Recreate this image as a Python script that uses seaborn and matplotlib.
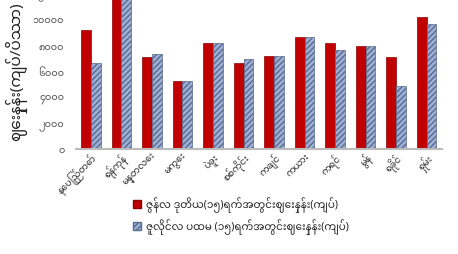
import matplotlib
matplotlib.use("Agg")
import matplotlib.pyplot as plt
from matplotlib import font_manager
import seaborn as sns
import pandas as pd

regions = ["နေပြည်တော်", "ရန်ကုန်", "မန္တလေး", "မကွေး", "ပဲခူး", "စစ်ကိုင်း",
           "ကချင်", "ကယား", "ကရင်", "မွန်", "ရခိုင်", "ရှမ်း"]
june_2nd = [9200, 13000, 7100, 5300, 8200, 6700, 7200, 8700, 8200, 8000, 7100, 10200]
july_1st = [6700, 12500, 7400, 5300, 8200, 7000, 7200, 8700, 7700, 8000, 4900, 9700]
series_names = ["ဇွန်လ ဒုတိယ(၁၅)ရက်အတွင်းဈေးနှုန်း(ကျပ်)",
                "ဇူလိုင်လ ပထမ (၁၅)ရက်အတွင်းဈေးနှုန်း(ကျပ်)"]
y_ticks = [0, 2000, 4000, 6000, 8000, 10000, 12000]
y_tick_labels = ["၀", "၂၀၀၀", "၄၀၀၀", "၆၀၀၀", "၈၀၀၀", "၁၀၀၀၀", "၁၂၀၀၀"]
y_title = "ဈေးနှုန်း(ကျပ်/ပိဿာ)"

df = pd.DataFrame({
    "region": regions * 2,
    "price": june_2nd + july_1st,
    "series": [series_names[0]] * len(regions) + [series_names[1]] * len(regions),
})

sns.set_style("white")
# pick any installed font that has Myanmar glyphs, fall back to DejaVu
installed = {f.name for f in font_manager.fontManager.ttflist}
fams = [f for f in ["Noto Sans Myanmar", "Padauk", "Myanmar Text", "Noto Sans"] if f in installed]
plt.rcParams["font.family"] = fams + ["DejaVu Sans"]

fig = plt.figure(figsize=(4.58, 2.54), dpi=100)
ax = fig.add_axes([0.165, 0.413, 0.80, 0.61])

sns.barplot(data=df, x="region", y="price", hue="series",
            palette=["#C00000", "#9DB0D8"], width=0.64, gap=0,
            saturation=1, ax=ax)

for bar in ax.containers[0]:
    bar.set_edgecolor("#8B0000")
    bar.set_linewidth(0.5)
for bar in ax.containers[1]:
    bar.set_hatch("//////")
    bar.set_edgecolor("#5B6B8C")
    bar.set_linewidth(0.5)

ax.set_ylim(0, 12000)
ax.set_yticks(y_ticks)
ax.set_yticklabels(y_tick_labels, fontsize=7, color="#555555")
ax.set_ylabel(y_title, fontsize=11, color="#222222")
ax.set_xlabel("")
ax.tick_params(axis="x", length=0, pad=2)
ax.tick_params(axis="y", length=0, pad=8)
plt.setp(ax.get_xticklabels(), rotation=45, ha="right", rotation_mode="anchor",
         fontsize=6.8, color="#333333")

for s in ["top", "right", "left"]:
    ax.spines[s].set_visible(False)
ax.spines["bottom"].set_color("#BBBBBB")
ax.spines["bottom"].set_linewidth(1.5)

leg = ax.legend(loc="upper left", bbox_to_anchor=(0.27, 0.26),
                bbox_transform=fig.transFigure, frameon=False,
                fontsize=7.5, handlelength=0.8, handleheight=0.8,
                handletextpad=0.4, labelspacing=0.6)
h_red, h_blue = leg.legend_handles
h_red.set_edgecolor("#8B0000")
h_blue.set_hatch("//////")
h_blue.set_edgecolor("#5B6B8C")

fig.savefig("out.png", dpi=100)
